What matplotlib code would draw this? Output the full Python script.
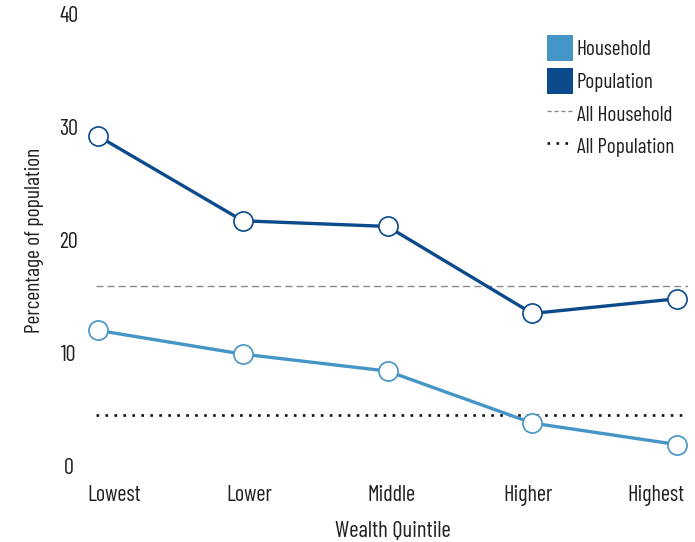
import matplotlib
matplotlib.use("Agg")
import matplotlib.pyplot as plt
from matplotlib.patches import Patch
from matplotlib.lines import Line2D
import numpy as np

categories = ["Lowest", "Lower", "Middle", "Higher", "Highest"]
household = [12.0, 9.9, 8.4, 3.8, 1.9]
population = [29.2, 21.7, 21.2, 13.5, 14.8]
all_household = 15.9
all_population = 4.5
y_ticks = [0, 10, 20, 30, 40]

FONT = "Barlow Condensed"
TXT = "#231f20"
C_HH = "#4595c6"
C_POP = "#0b4a8b"

plt.rcParams["font.family"] = [FONT, "DejaVu Sans"]

W, H = 695, 542
fig = plt.figure(figsize=(W / 100, H / 100), dpi=100)
# axes geometry in pixels
x0_px, x1_px = 96, 688
y0_px, y1_px = 466, 14
ax = fig.add_axes([x0_px / W, 1 - y0_px / H, (x1_px - x0_px) / W, (y0_px - y1_px) / H])
pt0_px, pt4_px = 98, 677
step = (pt4_px - pt0_px) / 4.0
ax.set_xlim((x0_px - pt0_px) / step, (x1_px - pt0_px) / step)
ax.set_ylim(0, 40)

x = np.arange(len(categories))

ax.axhline(all_household, color="#8a8a8a", lw=1.0, ls=(0, (5, 3)), zorder=1)
ax.axhline(all_population, color="#111111", lw=1.9, ls=(0, (1, 2.4)), zorder=1)

ms = 13.8
ax.plot(x, household, color=C_HH, lw=2.4, marker="o", ms=ms, mfc="white",
        mec=C_HH, mew=1.2, zorder=3, clip_on=False)
ax.plot(x, population, color=C_POP, lw=2.4, marker="o", ms=ms, mfc="white",
        mec=C_POP, mew=1.2, zorder=3, clip_on=False)

for s in ax.spines.values():
    s.set_visible(False)

# tick-label placement (layout only), pixel offsets from each point
label_shift_px = np.array([15.7, 6.7, 4.0, -4.0, -21.0])
ax.set_xticks(x + label_shift_px / step)
ax.set_xticklabels(categories)
ax.set_yticks(y_ticks)
ax.set_yticklabels([str(t) for t in y_ticks])
ax.tick_params(axis="both", length=0, labelsize=16, labelcolor=TXT)
ax.tick_params(axis="x", pad=13.5)
ax.tick_params(axis="y", pad=19.5)
for lbl in ax.get_yticklabels():
    lbl.set_horizontalalignment("center")

fig.text(392.5 / W, 1 - 531 / H, "Wealth Quintile", ha="center", va="center",
         fontsize=16.5, color=TXT)
fig.text(35 / W, 1 - 240 / H, "Percentage of population", ha="center", va="center",
         rotation=90, fontsize=15.5, color=TXT)

handles = [
    Patch(facecolor=C_HH, edgecolor="none", label="Household"),
    Patch(facecolor=C_POP, edgecolor="none", label="Population"),
    Line2D([], [], color="#8a8a8a", lw=1.0, ls=(0, (3, 2)), label="All Household"),
    Line2D([], [], color="#111111", lw=1.9, ls=(0, (1, 2.4)), label="All Population"),
]
leg = fig.legend(handles=handles, loc="upper left", bbox_to_anchor=(547 / W, 1 - 35 / H),
                 frameon=False, fontsize=15.3, handlelength=1.22, handleheight=1.49,
                 handletextpad=0.19, labelspacing=0.33, borderaxespad=0, borderpad=0)
for t in leg.get_texts():
    t.set_color(TXT)

fig.savefig("out.png", dpi=100)
